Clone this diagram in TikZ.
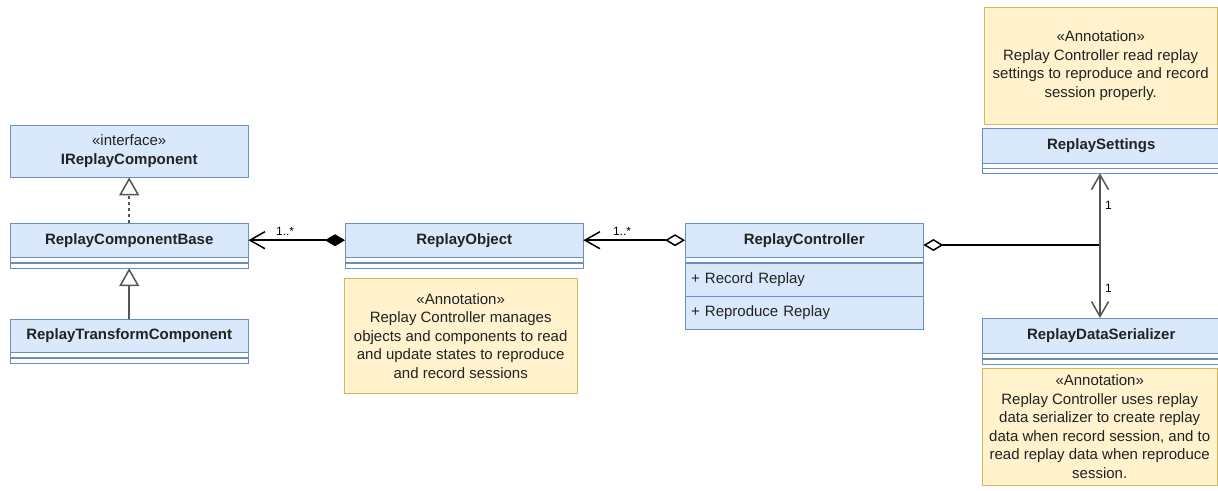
\documentclass[tikz,border=0pt]{standalone}
\usepackage{fontspec}
\setmainfont{Liberation Sans}
\usetikzlibrary{arrows.meta}

\definecolor{clsfill}{HTML}{DAE8FC}
\definecolor{clsline}{HTML}{6C8EBF}
\definecolor{notefill}{HTML}{FFF2CC}
\definecolor{noteline}{HTML}{D6B656}
\definecolor{ink}{HTML}{222222}
\definecolor{edgegray}{HTML}{555555}

\begin{document}
\begin{tikzpicture}[x=1pt,y=-1pt,
    font=\fontsize{15}{18.5}\selectfont, text=ink,
    head/.style={draw=clsline, fill=clsfill, minimum width=238pt, minimum height=34pt,
        anchor=north west, inner sep=0pt, font=\fontsize{15}{18.5}\selectfont\bfseries},
    strip/.style={draw=clsline, fill=white, minimum width=238pt, minimum height=5pt,
        anchor=north west, inner sep=0pt},
    meth/.style={draw=clsline, fill=clsfill, minimum width=238pt, minimum height=33pt,
        anchor=north west, inner sep=0pt, text width=226pt, align=left},
    note/.style={draw=noteline, fill=notefill, anchor=north west, inner sep=0pt, align=center},
    mult/.style={font=\fontsize{12}{14}\selectfont, text=black},
    barb/.style={-{Straight Barb[length=15pt,width=17pt]}},
    edge/.style={line width=1.5pt}]
    \useasboundingbox (0,0) rectangle (1218,490);

    % left column
    \node[head, minimum height=52pt, align=center] (ifc) at (10,125)
        {\mdseries«interface»\\IReplayComponent};
    \node[head] (base) at (10,223) {ReplayComponentBase};
    \node[strip] (baseA) at (base.south west) {};
    \node[strip] (baseB) at (baseA.south west) {};
    \node[head, minimum height=33pt] (trans) at (10,319) {ReplayTransformComponent};
    \node[strip] (transA) at (trans.south west) {};
    \node[strip] (transB) at (transA.south west) {};

    % middle
    \node[head] (obj) at (345,223) {ReplayObject};
    \node[strip] (objA) at (obj.south west) {};
    \node[strip] (objB) at (objA.south west) {};
    \node[note, minimum width=233pt, minimum height=115pt] (noteObj) at (344,278)
        {«Annotation»\\Replay Controller manages\\objects and components to read\\and update states to reproduce\\and record sessions};

    \node[head] (ctl) at (685,223) {ReplayController};
    \node[strip] (ctlA) at (ctl.south west) {};
    \node[meth] (rec) at (ctlA.south west) {+ Record Replay};
    \node[meth] (rep) at (rec.south west) {+ Reproduce Replay};

    % right column
    \node[note, minimum width=233pt, minimum height=117pt] (noteSet) at (984,7)
        {«Annotation»\\Replay Controller read replay\\settings to reproduce and record\\session properly.};
    \node[head, minimum height=35pt] (set) at (982,128) {ReplaySettings};
    \node[strip, minimum height=4.5pt] (setA) at (set.south west) {};
    \node[strip, minimum height=4.5pt] (setB) at (setA.south west) {};

    \node[head, minimum height=35pt] (ser) at (982,318) {ReplayDataSerializer};
    \node[strip] (serA) at (ser.south west) {};
    \node[strip] (serB) at (serA.south west) {};
    \node[note, minimum width=235pt, minimum height=117pt] (noteSer) at (982,368)
        {«Annotation»\\Replay Controller uses replay\\data serializer to create replay\\data when record session, and to\\read replay data when reproduce\\session.};

    \coordinate (jn) at (1100,245);

    % inheritance
    \draw[edge, edgegray, dash pattern=on 3pt off 3pt, -{Triangle[fill=white,length=18pt,width=20pt]}]
        (base.north) -- (ifc.south);
    \draw[edge, edgegray, -{Triangle[fill=white,length=18pt,width=20pt]}]
        (trans.north) -- (baseB.south);

    % associations
    \draw[edge, {Diamond[length=20pt,width=12pt]}-{Straight Barb[length=15pt,width=17pt]}]
        (obj.west) -- (base.east) node[mult, pos=0.62, above=1pt] {1..*};
    \draw[edge, {Diamond[fill=white,length=20pt,width=12pt]}-{Straight Barb[length=15pt,width=17pt]}]
        (ctl.west) -- (obj.east) node[mult, pos=0.62, above=1pt] {1..*};
    \draw[edge, {Diamond[fill=white,length=20pt,width=12pt]}-]
        (ctl.east |- jn) -- (jn);
    \draw[edge, edgegray, barb] (jn) -- (jn |- setB.south)
        node[mult, pos=0.55, right=1pt] {1};
    \draw[edge, edgegray, barb] (jn) -- (jn |- ser.north)
        node[mult, pos=0.6, right=1pt] {1};
\end{tikzpicture}
\end{document}
